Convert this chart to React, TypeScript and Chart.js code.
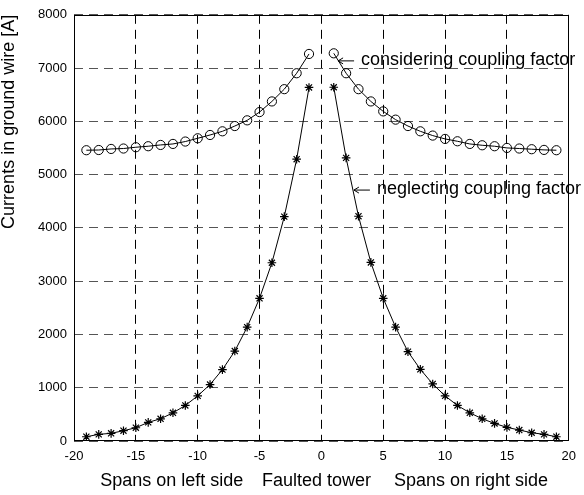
import React, { useEffect, useRef } from 'react';
import { Chart, registerables } from 'chart.js';

Chart.register(...registerables);

// ---- data ----
const spansLeft = [-19, -18, -17, -16, -15, -14, -13, -12, -11, -10, -9, -8, -7, -6, -5, -4, -3, -2, -1];
const spansRight = [1, 2, 3, 4, 5, 6, 7, 8, 9, 10, 11, 12, 13, 14, 15, 16, 17, 18, 19];

const consideringLeft = [5458, 5462, 5482, 5490, 5514, 5533, 5557, 5576, 5621, 5682, 5744, 5813, 5912, 6019, 6174, 6374, 6604, 6903, 7265];
const consideringRight = [7277, 6903, 6604, 6374, 6187, 6032, 5912, 5813, 5733, 5670, 5626, 5576, 5551, 5533, 5501, 5490, 5477, 5464, 5458];

const neglectingLeft = [80, 125, 144, 193, 249, 350, 417, 529, 667, 847, 1060, 1340, 1688, 2137, 2679, 3346, 4211, 5290, 6636];
const neglectingRight = [6640, 5314, 4219, 3352, 2679, 2137, 1676, 1346, 1071, 847, 667, 529, 417, 330, 256, 206, 155, 125, 80];

const xTickValues = [-20, -15, -10, -5, 0, 5, 10, 15, 20];
const yTickValues = [0, 1000, 2000, 3000, 4000, 5000, 6000, 7000, 8000];

const yAxisTitle = 'Currents in ground wire [A]';
const xAxisLabels = ['Spans on left side', 'Faulted tower', 'Spans on right side'];
const xAxisLabelAt = [-12.1, -0.4, 12.1];

const annotationTexts = ['considering coupling factor', 'neglecting coupling factor'];
const annotationX = [1.35, 2.63];
const annotationY = [7135, 4710];

const FONT = '"Liberation Sans", Arial, Helvetica, sans-serif';

const toPoints = (xs: number[], ys: number[]) => xs.map((x, i) => ({ x, y: ys[i] }));

const framePlugin = {
  id: 'frameAndText',
  afterDraw(chart: any) {
    const { ctx, chartArea, scales } = chart;
    const xs = scales.x;
    const ys = scales.y;
    ctx.save();
    // frame
    const l = Math.round(chartArea.left) + 0.5;
    const r = Math.round(chartArea.right) - 0.5;
    const t = Math.round(chartArea.top) + 0.5;
    const b = Math.round(chartArea.bottom) - 0.5;
    ctx.strokeStyle = '#000';
    ctx.lineWidth = 1;
    ctx.setLineDash([]);
    ctx.strokeRect(l, t, r - l, b - t);

    // annotations with left arrows
    ctx.fillStyle = '#000';
    ctx.font = `18px ${FONT}`;
    ctx.textAlign = 'left';
    ctx.textBaseline = 'alphabetic';
    annotationTexts.forEach((txt, i) => {
      const px = xs.getPixelForValue(annotationX[i]);
      const py = ys.getPixelForValue(annotationY[i]);
      ctx.beginPath();
      ctx.moveTo(px, py);
      ctx.lineTo(px + 16, py);
      ctx.moveTo(px + 5, py - 3);
      ctx.lineTo(px, py);
      ctx.lineTo(px + 5, py + 3);
      ctx.stroke();
      ctx.fillText(txt, px + 23, py + 4);
    });

    // x-axis labels
    ctx.textAlign = 'center';
    xAxisLabels.forEach((txt, i) => {
      const px = xs.getPixelForValue(xAxisLabelAt[i]);
      ctx.fillText(txt, px, chartArea.bottom + 45);
    });
    ctx.restore();
  },
};

export default function App() {
  const ref = useRef<HTMLCanvasElement | null>(null);

  useEffect(() => {
    document.body.style.margin = '0';
    const canvas = ref.current;
    if (!canvas) return;
    Chart.defaults.color = '#000';
    Chart.defaults.font.family = FONT;

    const lineCommon = {
      showLine: true,
      borderColor: '#000',
      borderWidth: 1,
      tension: 0,
      pointBorderColor: '#000',
      pointBackgroundColor: 'rgba(0,0,0,0)',
      pointBorderWidth: 1,
    };

    const chart = new Chart(canvas, {
      type: 'scatter',
      data: {
        datasets: [
          { ...lineCommon, label: 'considering L', data: toPoints(spansLeft, consideringLeft), pointStyle: 'circle', pointRadius: 4.6 },
          { ...lineCommon, label: 'considering R', data: toPoints(spansRight, consideringRight), pointStyle: 'circle', pointRadius: 4.6 },
          { ...lineCommon, label: 'neglecting L', data: toPoints(spansLeft, neglectingLeft), pointStyle: 'star', pointRadius: 4.3, pointBorderWidth: 1.2 },
          { ...lineCommon, label: 'neglecting R', data: toPoints(spansRight, neglectingRight), pointStyle: 'star', pointRadius: 4.3, pointBorderWidth: 1.2 },
        ],
      },
      options: {
        animation: false,
        responsive: false,
        maintainAspectRatio: false,
        layout: { padding: { top: 13, right: 8, left: 0, bottom: 0 } },
        plugins: { legend: { display: false }, tooltip: { enabled: false } },
        scales: {
          x: {
            type: 'linear',
            min: -20,
            max: 20,
            afterBuildTicks: (s: any) => { s.ticks = xTickValues.map((v) => ({ value: v })); },
            afterFit: (s: any) => { s.height = 54; },
            ticks: { font: { size: 13 }, padding: 8, color: '#000', maxRotation: 0, callback: (v: any) => String(v) },
            grid: { color: '#000', lineWidth: 1, drawTicks: false },
            border: { display: false, dash: [9, 6] },
            title: { display: false },
          },
          y: {
            type: 'linear',
            min: 0,
            max: 8000,
            afterBuildTicks: (s: any) => { s.ticks = yTickValues.map((v) => ({ value: v })); },
            afterFit: (s: any) => { s.width = 74; },
            ticks: { font: { size: 13 }, padding: 7, color: '#000', callback: (v: any) => String(v) },
            grid: { color: '#555', lineWidth: 1, drawTicks: false },
            border: { display: false, dash: [9, 6] },
            title: {
              display: true,
              text: yAxisTitle,
              align: 'end',
              font: { size: 18, lineHeight: 1 },
              padding: { top: 0, bottom: 0 },
              color: '#000',
            },
          },
        },
      },
      plugins: [framePlugin],
    });
    return () => chart.destroy();
  }, []);

  return (
    <div style={{ width: 584, height: 495 }}>
      <canvas ref={ref} width={584} height={495} />
    </div>
  );
}
